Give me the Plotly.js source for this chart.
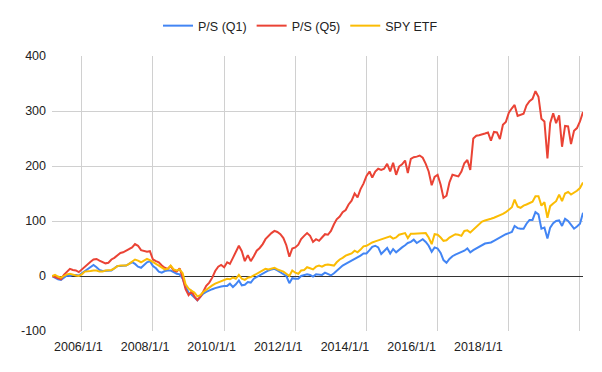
<!DOCTYPE html>
<html>
<head>
<meta charset="utf-8">
<script src="https://cdn.plot.ly/plotly-3.0.1.min.js"></script>
<style>
  html, body { margin: 0; padding: 0; background: #ffffff; }
  #chart { width: 602px; height: 372px; }
</style>
</head>
<body>
<div id="chart"></div>
<script>
// Monthly observations, first month and count
const startYear = 2005, startMonth = 3, monthCount = 180;

const seriesNames = ["P/S (Q1)", "P/S (Q5)", "SPY ETF"];
const seriesColors = ["#4285F4", "#EA4335", "#FBBC04"];

const psQ1 = [
  0, -3, -6, -7, -3, 1, 0, 2, 2, 1,
  5, 9, 13, 17, 20, 16, 11, 9, 9, 10,
  10, 14, 18, 18, 19, 19, 22, 25, 22, 17,
  15, 20, 25, 27, 18, 14, 8, 6, 9, 10,
  10, 7, 4, 3, -5, -20, -30, -34, -38, -44,
  -38, -32, -29, -26, -24, -22, -20, -19, -18, -18,
  -14, -20, -15, -8, -17, -16, -11, -12, -5, -2,
  2, 5, 8, 10, 12, 13, 10, 7, 4, 0,
  -13, -4, -5, -5, 0, 1, 3, 2, -1, 3,
  3, 2, 6, 3, 1, 5, 10, 15, 19, 22,
  25, 28, 30, 33, 37, 41, 41, 47, 53, 55,
  52, 40, 46, 51, 41, 49, 43, 48, 52, 56,
  60, 62, 66, 60, 64, 67, 62, 55, 44, 52,
  50, 42, 29, 24, 31, 36, 39, 41, 44, 46,
  50, 43, 47, 50, 54, 57, 59, 60, 61, 64,
  67, 70, 74, 76, 78, 80, 91, 87, 86, 86,
  95, 102, 102, 116, 112, 86, 88, 68, 88, 96,
  100, 101, 91, 104, 100, 94, 86, 90, 95, 115
];

const psQ5 = [
  0, -2, -5, -6, 2, 8, 13, 11, 10, 7,
  12, 16, 22, 26, 30, 31, 28, 26, 23, 24,
  30, 33, 38, 42, 43, 46, 48, 52, 58, 55,
  47, 45, 44, 45, 30, 27, 25, 19, 15, 13,
  18, 10, 8, 14, -3, -24, -35, -28, -37, -44,
  -38, -28, -18, -12, -3, 9, 17, 20, 16, 25,
  22, 33, 44, 55, 45, 27, 38, 27, 36, 46,
  51, 58, 67, 73, 78, 82, 80, 76, 69, 56,
  35, 50, 52, 57, 67, 73, 78, 73, 62, 67,
  64, 70, 76, 75, 82, 94, 103, 108, 116, 120,
  130, 137, 150, 143, 158, 168, 182, 190, 179, 190,
  195, 193, 195, 204, 190, 206, 184, 199, 203, 210,
  187, 213, 216, 217, 219, 215, 204, 190, 165, 180,
  184, 166, 142, 146, 170, 184, 183, 181, 190, 205,
  211, 193, 250, 255, 256, 257, 259, 261, 246, 262,
  261, 249, 275, 280, 297, 305, 311, 291, 293, 295,
  310, 318, 322, 336, 326, 286, 281, 214, 278, 296,
  278, 292, 235, 273, 272, 240, 264, 269, 281, 298
];

const spyEtf = [
  0, 2, -1, -3, 0, 3, 4, 2, 1, 0,
  3, 8, 8, 9, 10, 10, 8, 8, 10, 11,
  11, 14, 18, 19, 19, 19, 22, 26, 30, 28,
  25, 28, 31, 29, 25, 22, 19, 16, 12, 13,
  19, 12, 10, 12, 5, -15, -23, -27, -30, -37,
  -35, -29, -25, -20, -17, -14, -12, -10, -7, -5,
  -6, -3, -5, 2, -5, -7, -3, -2, 1, 4,
  8, 10, 13, 12, 13, 15, 12, 10, 8, 4,
  0, 10, 6, 4, 10, 11, 16, 14, 12, 17,
  19, 17, 20, 21, 20, 19, 25, 30, 33, 37,
  39, 41, 46, 43, 48, 54, 55, 59, 61, 63,
  65, 67, 68, 70, 72, 68, 70, 75, 76, 78,
  69, 77, 77, 77, 77, 77, 78, 70, 58, 76,
  75, 70, 64, 65, 70, 73, 76, 75, 73, 82,
  83, 79, 84, 88, 94, 99, 101, 102, 104, 106,
  108, 110, 113, 116, 121, 125, 139, 126, 124, 128,
  130, 132, 135, 145, 145, 128, 134, 106, 127, 132,
  136, 148, 136, 150, 153, 148, 151, 155, 160, 170
];

// Axis tick labels and where the original chart printed them
const xLabelText = ["2006/1/1", "2008/1/1", "2010/1/1", "2012/1/1", "2014/1/1", "2016/1/1", "2018/1/1"];
const xLabelAt = ["2005-11-26", "2007-10-12", "2009-08-26", "2011-07-10", "2013-05-25", "2015-04-09", "2017-02-21"];
const yTicks = [-100, 0, 100, 200, 300, 400];

function pad(n) { return (n < 10 ? "0" : "") + n; }
const dates = [];
for (let k = 0; k < monthCount; k++) {
  const m0 = startMonth - 1 + k;
  const y = startYear + Math.floor(m0 / 12);
  const m = (m0 % 12) + 1;
  dates.push(y + "-" + pad(m) + "-01");
}

const values = [psQ1, psQ5, spyEtf];
const traces = values.map((v, s) => ({
  type: "scatter",
  mode: "lines",
  name: seriesNames[s],
  x: dates,
  y: v,
  xaxis: "x",
  yaxis: "y",
  line: { color: seriesColors[s], width: 2 },
  hoverinfo: "x+y+name"
}));

const font = { family: "Arial, 'Liberation Sans', sans-serif", size: 12.5, color: "#222222" };
const xRange = [dates[0], dates[dates.length - 1]];

const layout = {
  width: 602,
  height: 372,
  margin: { l: 52, r: 19, t: 55, b: 41, pad: 0 },
  paper_bgcolor: "#ffffff",
  plot_bgcolor: "#ffffff",
  font: font,
  showlegend: true,
  legend: {
    orientation: "h",
    x: 0.468, xanchor: "center",
    y: 1.105, yanchor: "middle",
    font: { family: font.family, size: 12.5, color: "#222222" },
    bgcolor: "rgba(0,0,0,0)",
    itemwidth: 30,
    traceorder: "normal"
  },
  xaxis: {
    type: "date",
    range: xRange,
    tick0: "2006-01-01",
    dtick: "M24",
    showgrid: true,
    gridcolor: "#d0d0d0",
    gridwidth: 1,
    showticklabels: false,
    ticks: "",
    zeroline: false,
    showline: false,
    fixedrange: true
  },
  xaxis2: {
    type: "date",
    overlaying: "x",
    side: "bottom",
    range: xRange,
    tickmode: "array",
    tickvals: xLabelAt,
    ticktext: xLabelText,
    showgrid: false,
    ticks: "",
    ticklabelstandoff: 6,
    tickfont: { family: font.family, size: 12.5, color: "#222222" },
    zeroline: false,
    showline: false,
    fixedrange: true
  },
  yaxis: {
    range: [-100, 400],
    tickmode: "array",
    tickvals: yTicks,
    ticktext: yTicks.map(String),
    showgrid: true,
    gridcolor: "#d0d0d0",
    gridwidth: 1,
    zeroline: true,
    zerolinecolor: "#333333",
    zerolinewidth: 1,
    ticks: "",
    ticklabelstandoff: 5,
    tickfont: { family: font.family, size: 12.5, color: "#222222" },
    showline: false,
    fixedrange: true
  }
};

// an invisible trace on the label axis so it is drawn
traces.unshift({
  type: "scatter", mode: "lines", x: xRange, y: [null, null],
  xaxis: "x2", yaxis: "y", showlegend: false, hoverinfo: "skip"
});

Plotly.newPlot("chart", traces, layout, { displayModeBar: false, staticPlot: true });
</script>
</body>
</html>
